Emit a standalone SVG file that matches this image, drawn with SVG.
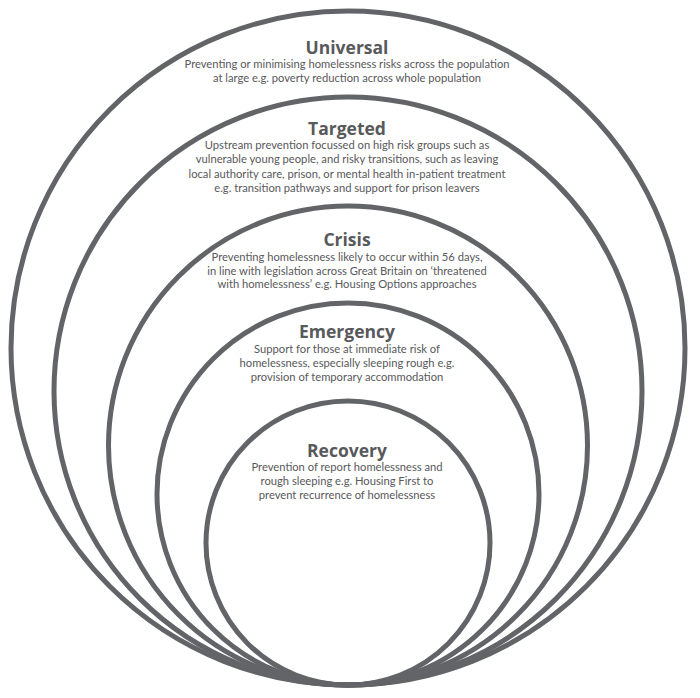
<svg xmlns="http://www.w3.org/2000/svg" width="700" height="698" viewBox="0 0 700 698">
<style>
.ring{fill:none;stroke:#636467;stroke-width:5}
.t{font-family:"Open Sans","Liberation Sans",sans-serif;font-weight:700;font-size:17.5px;fill:#58595b;text-anchor:middle}
.b{font-family:Lato,"Liberation Sans",sans-serif;font-size:11.2px;fill:#58595b;text-anchor:middle}
</style>
<rect width="700" height="698" fill="#ffffff"/>
<g id="universal">
<circle class="ring" cx="348" cy="348" r="337"/>
<text class="t" x="347" y="54">Universal</text>
<text class="b" x="347" y="68">Preventing or minimising homelessness risks across the population</text>
<text class="b" x="347" y="82">at large e.g. poverty reduction across whole population</text>
</g>
<g id="targeted">
<circle class="ring" cx="348" cy="391" r="294"/>
<text class="t" x="347" y="135">Targeted</text>
<text class="b" x="347" y="149">Upstream prevention focussed on high risk groups such as</text>
<text class="b" x="347" y="163">vulnerable young people, and risky transitions, such as leaving</text>
<text class="b" x="347" y="178">local authority care, prison, or mental health in-patient treatment</text>
<text class="b" x="347" y="192">e.g. transition pathways and support for prison leavers</text>
</g>
<g id="crisis">
<circle class="ring" cx="348" cy="445.5" r="239.5"/>
<text class="t" x="347" y="246">Crisis</text>
<text class="b" x="347" y="261">Preventing homelessness likely to occur within 56 days,</text>
<text class="b" x="347" y="275">in line with legislation across Great Britain on ‘threatened</text>
<text class="b" x="347" y="288">with homelessness’ e.g. Housing Options approaches</text>
</g>
<g id="emergency">
<circle class="ring" cx="348" cy="494" r="191"/>
<text class="t" x="347" y="338">Emergency</text>
<text class="b" x="347" y="353">Support for those at immediate risk of</text>
<text class="b" x="347" y="367">homelessness, especially sleeping rough e.g.</text>
<text class="b" x="347" y="381">provision of temporary accommodation</text>
</g>
<g id="recovery">
<circle class="ring" cx="348" cy="543" r="142"/>
<text class="t" x="347" y="457">Recovery</text>
<text class="b" x="347" y="471">Prevention of report homelessness and</text>
<text class="b" x="347" y="485">rough sleeping e.g. Housing First to</text>
<text class="b" x="347" y="499">prevent recurrence of homelessness</text>
</g>
<g id="connectors"/>
</svg>
